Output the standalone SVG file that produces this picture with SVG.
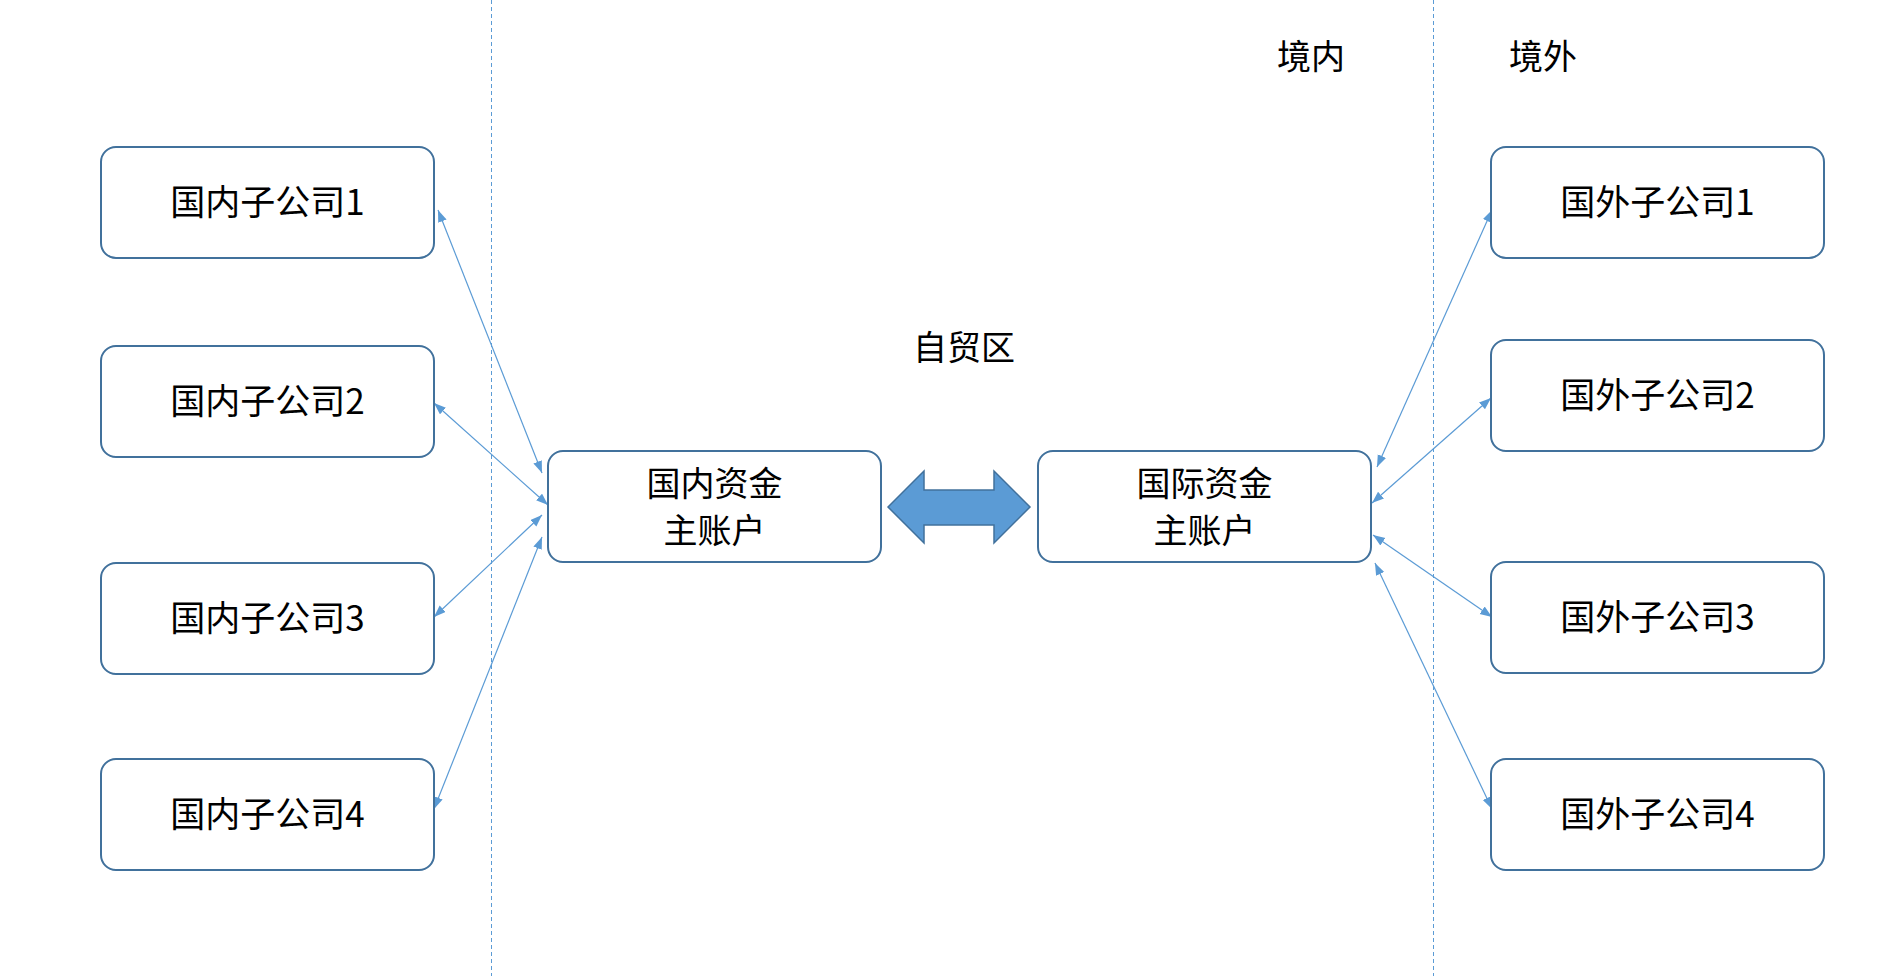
<svg xmlns="http://www.w3.org/2000/svg" width="1896" height="976" viewBox="0 0 1896 976">
  <style>
    .box { fill: #ffffff; stroke: #41719c; stroke-width: 2; }
    .lbl { font-family: "Microsoft YaHei", "Noto Sans CJK SC", "Noto Sans", sans-serif; font-size: 35px; fill: #000000; text-anchor: middle; }
    .lbl2 { font-family: "Microsoft YaHei", "Noto Sans CJK SC", "Noto Sans", sans-serif; font-size: 34px; fill: #000000; text-anchor: middle; }
    .hdr { font-family: "Microsoft YaHei", "Noto Sans CJK SC", "Noto Sans", sans-serif; font-size: 34px; fill: #000000; text-anchor: middle; }
    .conn { stroke: #5b9bd5; stroke-width: 1.2; fill: none; marker-start: url(#ah); marker-end: url(#ah); }
    .divider { stroke: #5b9bd5; stroke-width: 1; stroke-dasharray: 4 3; fill: none; }
  </style>
  <defs>
    <marker id="ah" markerUnits="userSpaceOnUse" markerWidth="13" markerHeight="10" refX="12" refY="4.5" orient="auto-start-reverse">
      <path d="M0,0 L12,4.5 L0,9 z" fill="#5b9bd5"/>
    </marker>
  </defs>
  <rect width="1896" height="976" fill="#ffffff"/>

  <g id="dividers">
    <line class="divider" x1="491.5" y1="0" x2="491.5" y2="976"/>
    <line class="divider" x1="1433.5" y1="0" x2="1433.5" y2="976"/>
  </g>

  <g id="labels">
    <text class="hdr" x="1311" y="69">境内</text>
    <text class="hdr" x="1543" y="69">境外</text>
    <text class="hdr" x="964" y="360">自贸区</text>
  </g>

  <g id="connectors">
    <line class="conn" x1="438" y1="210" x2="542" y2="473"/>
    <line class="conn" x1="434" y1="403" x2="548" y2="505"/>
    <line class="conn" x1="434" y1="617" x2="542" y2="515"/>
    <line class="conn" x1="434" y1="809" x2="542" y2="537"/>
    <line class="conn" x1="1377" y1="467" x2="1492" y2="210"/>
    <line class="conn" x1="1372" y1="503" x2="1491" y2="398"/>
    <line class="conn" x1="1373" y1="535" x2="1492" y2="617"/>
    <line class="conn" x1="1375" y1="563" x2="1492" y2="809"/>
  </g>

  <g id="exchange-arrow">
    <polygon points="888,507 924,471 924,490 994,490 994,471 1030,507 994,543 994,525 924,525 924,543" fill="#5b9bd5" stroke="#41719c" stroke-width="1.5"/>
  </g>

  <g id="dom1"><rect class="box" x="101" y="147" width="333" height="111" rx="15"/><text class="lbl" x="267.5" y="215">国内子公司1</text></g>
  <g id="dom2"><rect class="box" x="101" y="346" width="333" height="111" rx="15"/><text class="lbl" x="267.5" y="414">国内子公司2</text></g>
  <g id="dom3"><rect class="box" x="101" y="563" width="333" height="111" rx="15"/><text class="lbl" x="267.5" y="631">国内子公司3</text></g>
  <g id="dom4"><rect class="box" x="101" y="759" width="333" height="111" rx="15"/><text class="lbl" x="267.5" y="827">国内子公司4</text></g>

  <g id="dom-master"><rect class="box" x="548" y="451" width="333" height="111" rx="15"/><text class="lbl2" x="714.5" y="496">国内资金</text><text class="lbl2" x="714.5" y="543">主账户</text></g>
  <g id="intl-master"><rect class="box" x="1038" y="451" width="333" height="111" rx="15"/><text class="lbl2" x="1204.5" y="496">国际资金</text><text class="lbl2" x="1204.5" y="543">主账户</text></g>

  <g id="for1"><rect class="box" x="1491" y="147" width="333" height="111" rx="15"/><text class="lbl" x="1657.5" y="215">国外子公司1</text></g>
  <g id="for2"><rect class="box" x="1491" y="340" width="333" height="111" rx="15"/><text class="lbl" x="1657.5" y="408">国外子公司2</text></g>
  <g id="for3"><rect class="box" x="1491" y="562" width="333" height="111" rx="15"/><text class="lbl" x="1657.5" y="630">国外子公司3</text></g>
  <g id="for4"><rect class="box" x="1491" y="759" width="333" height="111" rx="15"/><text class="lbl" x="1657.5" y="827">国外子公司4</text></g>
</svg>
